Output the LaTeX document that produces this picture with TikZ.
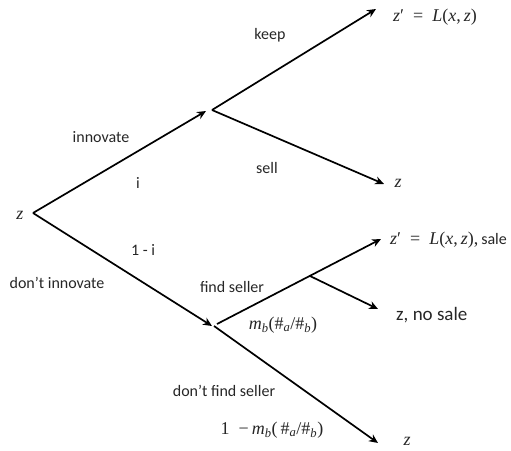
\documentclass[tikz,border=0pt]{standalone}
\usepackage{fontspec}
\setmainfont{Carlito}
\newfontfamily\mfam{Liberation Serif}
\usetikzlibrary{arrows.meta}
\newcommand{\vi}[1]{\textit{#1}}
\newcommand{\sbi}[1]{\textsubscript{\textit{#1}}}
\begin{document}
\begin{tikzpicture}[x=1pt,y=-1pt,
  arr/.style={line width=1.7pt,-{Stealth[length=9pt,width=8pt]}},
  lbl/.style={inner sep=0pt,text=black!85,font=\fontsize{16}{19}\selectfont},
  big/.style={inner sep=0pt,text=black!85,font=\fontsize{19}{22}\selectfont},
  mth/.style={inner sep=0pt,text=black!85,font=\mfam\fontsize{18}{21}\selectfont}]
\useasboundingbox (0,0) rectangle (511,450);
% vertices
\coordinate (root) at (33,213);
\coordinate (inntip) at (206,111);
\coordinate (v1) at (212,110);
\coordinate (keeptip) at (376,9);
\coordinate (selltip) at (384,184);
\coordinate (dontip) at (212,326);
\coordinate (v2) at (214,326);
\coordinate (fsstart) at (217,324);
\coordinate (fstip) at (381,239);
\coordinate (br) at (310,276);
\coordinate (brtip) at (378,309);
\coordinate (bottip) at (378,443);
% connectors
\draw[arr] (root) -- (inntip);
\draw[arr] (v1) -- (keeptip);
\draw[arr] (v1) -- (selltip);
\draw[arr] (root) -- (dontip);
\draw[arr] (v2) -- (bottip);
\draw[arr] (fsstart) -- (fstip);
\draw[arr] (br) -- (brtip);
% labels
\node[mth] (z0) at (20,215) {\vi{z}};
\node[mth,anchor=west] (zkeep) at (393,17) {\vi{z}′\enspace=\enspace\vi{L}(\vi{x},\,\vi{z})};
\node[lbl] (keep) at (270,35) {keep};
\node[lbl] (innov) at (101,137) {innovate};
\node[lbl] (i) at (138,183) {i};
\node[lbl] (sell) at (267,168) {sell};
\node[mth] (zsell) at (398,183) {\vi{z}};
\node[lbl] (onemi) at (143,250) {1 - i};
\node[lbl] (dinn) at (57,283) {don’t innovate};
\node[lbl] (fs) at (232,287) {find seller};
\node[mth] (mb) at (283,325) {\vi{m}\sbi{b}(\#\sbi{a}/\#\sbi{b})};
\node[mth,anchor=west] (zsale) at (390,240) {\vi{z}′\enspace=\enspace\vi{L}(\vi{x},\,\vi{z}),\,{\normalfont\fontsize{16}{19}\selectfont sale}};
\node[big,anchor=west] (nosale) at (396,315) {z, no sale};
\node[lbl] (dfs) at (224,391) {don’t find seller};
\node[mth] (onemb) at (272,430) {1\enspace−\,\vi{m}\sbi{b}(\,\#\sbi{a}/\#\sbi{b})};
\node[mth] (zbot) at (407,441) {\vi{z}};
\end{tikzpicture}
\end{document}
